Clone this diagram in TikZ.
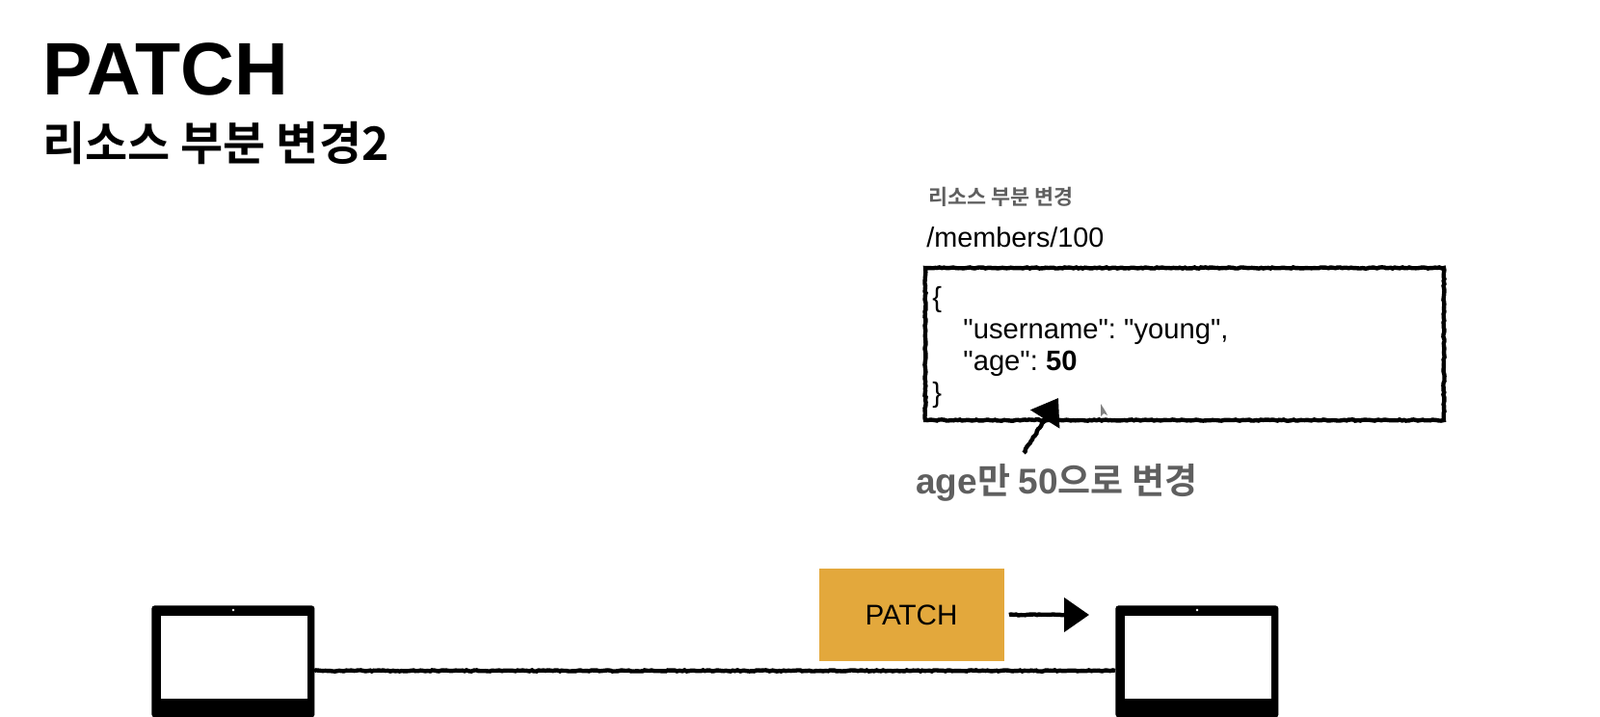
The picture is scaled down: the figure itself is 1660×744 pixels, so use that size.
\documentclass[tikz,border=0pt]{standalone}
\usepackage{fontspec}
\setmainfont{Liberation Sans}[Ligatures=TeXOff]
\newfontfamily\krfont{Noto Sans CJK KR}[BoldFont={Noto Sans CJK KR Bold}]
\usetikzlibrary{arrows.meta,decorations.pathmorphing}
\definecolor{patchfill}{HTML}{E3A83C}
\definecolor{notegray}{HTML}{5F5F5F}
\tikzset{
  rough/.style={decorate,decoration={random steps,segment length=1.2pt,amplitude=0.3pt}},
  roughshaft/.style={decorate,decoration={random steps,segment length=1.2pt,amplitude=0.3pt,post=lineto,post length=10pt}},
  laptop/.style={fill=black,rounded corners=1.5pt,minimum width=84.5pt,minimum height=58pt,inner sep=0pt},
  screen/.style={fill=white,minimum width=76pt,minimum height=43pt,inner sep=0pt},
  txt/.style={inner sep=0pt,anchor=west},
  pusharrow/.style={line width=2.2pt,-{Triangle[length=13pt,width=17.5pt]}}
}
\frenchspacing
\begin{document}
\begin{tikzpicture}[x=0.5pt,y=-0.5pt]
    \useasboundingbox (0,0) rectangle (1660,744);

    \node[txt] (title) at (44,72) {\fontsize{38.6}{38.6}\selectfont\bfseries PATCH};
    \node[txt] (subtitle) at (44,149) {\fontsize{24}{24}\selectfont\bfseries\krfont 리소스 부분 변경2};

    \node[txt,text=notegray] (boxnote) at (963,204) {\fontsize{10.9}{10.9}\selectfont\bfseries\krfont 리소스 부분 변경};
    \node[txt] (path) at (961,246) {\fontsize{14.4}{14.4}\selectfont /members/100};

    \node[draw,rough,line width=2.2pt,minimum width=269pt,minimum height=79pt,inner sep=0pt] (resource) at (1229,357) {};
    \node[txt,anchor=north west,align=left,font=\fontsize{14.6}{16.5}\selectfont] (body) at (967,297) {\{\\
      \hspace{16pt}"username": "young",\\
      \hspace{16pt}"age": \textbf{50}\\
      \}};

    \node[txt,text=notegray] (agenote) at (950,501) {\fontsize{18.5}{18.5}\selectfont\bfseries age\krfont 만 \rmfamily 50\krfont 으로 변경};
    \coordinate (agetip) at (1098,413);
    \coordinate (agetail) at (1062,470);
    \draw[pusharrow,roughshaft] (agetail) -- (agetip);

    % cursor
    \fill[gray] (1142,419) -- (1142,432) -- (1145,429) -- (1149,431) -- (1147,427) -- cycle;

    \node[laptop,anchor=north west] (client) at (157,628) {};
    \node[screen,anchor=north west] (clientscreen) at (167,639) {};
    \node[circle,fill=white,inner sep=0.5pt] (clientcam) at (242,633) {};
    \node[laptop,anchor=north west] (server) at (1157,628) {};
    \node[screen,anchor=north west] (serverscreen) at (1167,639) {};
    \node[circle,fill=white,inner sep=0.5pt] (servercam) at (1242,633) {};

    \coordinate (wirestart) at (326,696);
    \coordinate (wireend) at (1157,696);
    \draw[rough,line width=2.2pt] (wirestart) -- (wireend);

    \node[fill=patchfill,minimum width=96pt,minimum height=48pt,inner sep=0pt,font=\fontsize{14.8}{14.8}\selectfont] (request) at (945.5,638) {\raisebox{-1pt}{PATCH}};
    \coordinate (requesttip) at (1130,638);
    \draw[pusharrow,roughshaft] ([xshift=2.5pt]request.east) -- (requesttip);
\end{tikzpicture}
\end{document}
